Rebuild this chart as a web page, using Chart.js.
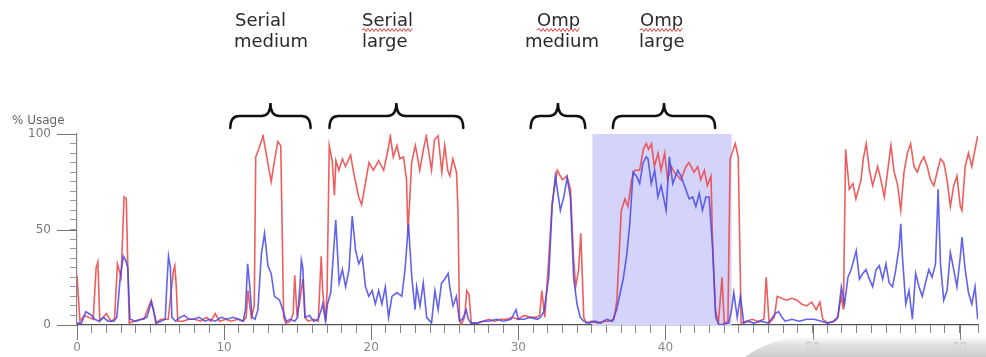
<!DOCTYPE html>
<html>
<head>
<meta charset="utf-8">
<script src="https://cdn.jsdelivr.net/npm/chart.js@4.4.0/dist/chart.umd.min.js"></script>
<style>
  html, body { margin: 0; padding: 0; background: #fff; }
  #wrap { position: relative; width: 986px; height: 357px; }
</style>
</head>
<body>
<div id="wrap"><canvas id="usage"></canvas></div>
<script>
// sample times (x) and % usage (y)
const redTime = [0,0.2,0.5,0.8,1.1,1.3,1.42,1.55,2.0,2.3,2.55,2.75,3.0,3.2,3.35,3.45,3.55,3.9,4.3,4.55,4.9,5.05,5.2,5.35,5.7,6.2,6.55,6.65,6.75,6.85,7.2,7.6,8.0,8.4,8.8,9.1,9.4,9.7,10.1,10.5,10.9,11.3,11.5,11.62,11.85,12.05,12.15,12.35,12.65,12.9,13.2,13.4,13.65,13.85,14.05,14.2,14.5,14.7,14.8,14.95,15.1,15.35,15.5,15.7,16.1,16.4,16.6,16.7,16.9,17.0,17.15,17.35,17.5,17.6,17.8,18.05,18.25,18.6,18.8,19.15,19.35,19.6,19.85,20.15,20.5,20.85,21.15,21.3,21.5,21.75,21.95,22.2,22.4,22.5,22.75,23.0,23.1,23.3,23.55,23.75,24.1,24.3,24.55,24.8,25.0,25.2,25.35,25.55,25.8,25.9,26.0,26.1,26.35,26.5,26.65,26.8,27.2,27.6,28.0,28.4,28.8,29.2,29.6,30.0,30.4,30.8,31.2,31.45,31.6,31.8,32.05,32.3,32.65,33.0,33.3,33.55,33.75,33.9,34.1,34.25,34.45,34.6,35.0,35.4,35.8,36.2,36.5,36.7,37.0,37.25,37.45,37.7,37.9,38.25,38.5,38.7,38.85,39.05,39.25,39.5,39.7,39.95,40.15,40.4,40.6,40.85,41.05,41.4,41.6,41.95,42.2,42.4,42.65,42.85,43.1,43.2,43.4,43.6,43.85,44.0,44.25,44.4,44.75,44.95,45.15,45.5,45.9,46.3,46.7,46.85,47.05,47.4,47.6,47.9,48.25,48.6,48.95,49.25,49.6,49.95,50.25,50.5,50.7,51.05,51.4,51.7,51.95,52.1,52.25,52.5,52.75,52.95,53.3,53.45,53.65,53.87,54.09,54.43,54.65,54.88,55.1,55.33,55.55,55.77,56.0,56.22,56.45,56.67,56.9,57.12,57.35,57.57,57.8,58.02,58.25,58.47,58.7,58.92,59.15,59.37,59.6,59.82,60.05,60.16,60.38,60.6,60.83,61.05,61.23];
const redUsage = [26,2,5,4,3,30,33,2,6,2,3,32,25,67,66,32,1,2,3,3,10,13,8,1,3,3,28,31,20,2,2,3,3,2,4,2,6,2,3,2,3,2,4,18,4,10,88,92,99,88,75,85,96,94,4,1,2,6,26,6,10,24,4,2,3,2,36,18,2,18,94,86,68,86,81,87,83,89,80,67,63,74,85,81,86,81,92,99,88,94,87,88,76,48,85,94,90,81,92,99,81,97,99,80,94,81,78,87,80,60,4,0,4,18,16,1,1,2,3,2,3,3,4,3,5,4,4,5,18,4,32,64,81,76,78,71,36,20,29,48,4,1,2,1,2,2,3,13,60,66,62,76,81,81,92,95,92,95,83,90,81,90,76,83,80,78,76,83,85,80,83,76,81,73,78,45,8,1,25,1,2,87,95,88,1,2,3,2,3,25,1,4,15,14,13,14,13,11,10,12,8,12,3,1,2,4,15,8,92,71,74,66,76,87,95,81,73,83,76,67,80,94,80,74,60,80,90,95,83,80,85,88,83,76,73,80,87,85,76,62,73,78,62,60,83,90,83,92,99];

const blueTime = [0,0.3,0.45,0.6,0.8,1.0,1.2,1.5,1.8,2.1,2.5,2.7,2.8,2.95,3.15,3.3,3.45,3.6,4.0,4.4,4.75,4.9,5.05,5.25,5.4,5.7,6.0,6.1,6.22,6.35,6.45,6.7,7.0,7.3,7.6,7.9,8.3,8.7,9.0,9.4,9.8,10.2,10.6,11.0,11.3,11.45,11.6,11.75,11.9,12.1,12.3,12.53,12.75,12.98,13.2,13.42,13.77,13.99,14.22,14.5,14.8,15.0,15.15,15.25,15.35,15.5,15.8,16.1,16.4,16.6,16.7,16.9,17.03,17.25,17.59,17.82,18.04,18.26,18.49,18.71,18.94,19.16,19.39,19.61,19.84,20.06,20.28,20.51,20.73,20.96,21.18,21.41,21.75,22.08,22.3,22.53,22.76,22.98,23.09,23.32,23.54,23.77,24.1,24.33,24.55,24.78,25.0,25.23,25.34,25.56,25.79,26.0,26.2,26.46,26.6,26.8,27.2,27.6,28.0,28.5,29.0,29.5,29.85,30.0,30.4,30.8,31.3,31.5,31.74,32.07,32.3,32.52,32.86,33.09,33.32,33.54,33.76,33.99,34.21,34.44,34.8,35.2,35.6,36.0,36.4,36.68,37.13,37.36,37.58,37.8,38.03,38.25,38.48,38.7,38.82,39.04,39.27,39.49,39.71,40.05,40.27,40.5,40.84,41.06,41.29,41.62,41.85,42.07,42.3,42.52,42.75,42.97,43.2,43.42,43.65,44.3,44.5,44.65,44.88,45.1,45.33,45.6,46.0,46.5,47.0,47.46,47.69,47.92,48.14,48.6,49.1,49.6,50.1,50.6,51.0,51.5,51.73,51.96,52.18,52.41,52.63,52.97,53.19,53.42,53.64,53.87,54.09,54.32,54.54,54.77,54.99,55.21,55.44,55.66,55.89,56.0,56.11,56.34,56.56,56.79,57.01,57.24,57.46,57.68,57.91,58.13,58.36,58.54,58.7,58.92,59.15,59.37,59.6,59.82,60.05,60.16,60.38,60.6,60.83,61.05,61.23];
const blueUsage = [1,1,4,7,6,5,3,2,4,2,2,4,12,26,36,34,30,3,2,3,4,8,12,6,1,2,3,20,36,30,4,2,4,5,3,3,4,2,3,2,4,3,4,3,2,8,32,20,4,3,8,37,48,31,27,15,13,8,2,3,2,4,20,34,30,4,5,2,3,8,11,2,11,17,55,22,29,20,29,57,39,32,36,20,15,18,11,18,11,20,4,15,17,15,29,53,25,8,20,10,22,4,1,18,8,22,24,27,20,10,15,2,3,8,3,1,1,2,2,3,2,3,8,3,3,4,3,4,7,25,62,78,60,67,77,67,25,11,4,2,1,2,1,3,2,8,24,36,53,80,78,74,85,88,87,74,81,67,73,60,88,74,81,78,73,66,67,62,69,60,67,67,41,4,0,1,8,17,4,15,1,2,1,2,1,6,7,4,2,3,2,3,3,2,1,2,4,20,11,25,29,39,24,27,29,24,20,29,31,24,32,22,20,29,41,53,36,11,18,3,27,20,15,22,29,25,32,71,32,13,18,38,29,20,36,46,29,17,11,20,3];

const xMajorTicks = [0, 10, 20, 30, 40, 50, 60];
const yMajorTicks = [0, 50, 100];

// the four runs marked with braces, and the highlighted interval
const runTitle = ['Serial', 'Serial', 'Omp', 'Omp'];
const runSize = ['medium', 'large', 'medium', 'large'];
const runStart = [10.42, 17.16, 30.84, 36.43];
const runEnd = [15.88, 26.26, 34.55, 43.38];
const highlight = [35.04, 44.5];

const toPoints = (xs, ys) => xs.map((x, i) => ({ x: x, y: ys[i] }));

// label left edges (px) for the two text lines above each brace
const labelLeft = [[235, 234], [362, 362], [537, 525], [640, 639]];
const underlined = [false, true, true, true];

function drawBrace(ctx, x0, x1) {
  const xc = (x0 + x1) / 2, yEnd = 128, yH = 116, yTop = 103, r = 9;
  ctx.beginPath();
  ctx.moveTo(x0, yEnd);
  ctx.quadraticCurveTo(x0, yH, x0 + r, yH);
  ctx.lineTo(xc - r, yH);
  ctx.quadraticCurveTo(xc, yH, xc, yTop);
  ctx.quadraticCurveTo(xc, yH, xc + r, yH);
  ctx.lineTo(x1 - r, yH);
  ctx.quadraticCurveTo(x1, yH, x1, yEnd);
  ctx.stroke();
}

function squiggle(ctx, x0, x1, y) {
  ctx.beginPath();
  ctx.moveTo(x0, y);
  let up = true;
  for (let x = x0 + 2; x <= x1; x += 2) {
    ctx.lineTo(x, up ? y - 1.5 : y + 1.5);
    up = !up;
  }
  ctx.stroke();
}

const decorations = {
  id: 'decorations',
  beforeDatasetsDraw(chart) {
    const { ctx, chartArea, scales } = chart;
    const x0 = scales.x.getPixelForValue(highlight[0]);
    const x1 = scales.x.getPixelForValue(highlight[1]);
    ctx.save();
    ctx.fillStyle = 'rgb(212,212,250)';
    ctx.fillRect(x0, scales.y.getPixelForValue(100), x1 - x0, scales.y.getPixelForValue(0) - scales.y.getPixelForValue(100));
    ctx.restore();
  },
  afterDraw(chart) {
    const { ctx, scales } = chart;
    const xs = scales.x, ys = scales.y;
    ctx.save();
    // long major ticks
    ctx.strokeStyle = '#777';
    ctx.lineWidth = 1;
    xMajorTicks.forEach(v => {
      const px = Math.round(xs.getPixelForValue(v)) + 0.5;
      ctx.beginPath(); ctx.moveTo(px, ys.bottom); ctx.lineTo(px, ys.bottom + 15); ctx.stroke();
    });
    yMajorTicks.forEach(v => {
      const py = Math.round(ys.getPixelForValue(v)) + 0.5;
      ctx.beginPath(); ctx.moveTo(xs.left - 20, py); ctx.lineTo(xs.left, py); ctx.stroke();
    });

    // axis title
    ctx.fillStyle = '#666';
    ctx.font = '12px "DejaVu Sans"';
    ctx.textBaseline = 'alphabetic';
    ctx.fillText('% Usage', 12, 124);

    // braces
    ctx.strokeStyle = '#111';
    ctx.lineWidth = 2.4;
    ctx.lineCap = 'round';
    runStart.forEach((s, i) => drawBrace(ctx, xs.getPixelForValue(s), xs.getPixelForValue(runEnd[i])));

    // run labels
    ctx.font = '18px "DejaVu Sans"';
    ctx.fillStyle = '#2a2a2a';
    runTitle.forEach((t, i) => {
      ctx.fillText(t, labelLeft[i][0], 26);
      ctx.fillText(runSize[i], labelLeft[i][1], 47);
      if (underlined[i]) {
        ctx.strokeStyle = '#e23b3b';
        ctx.lineWidth = 1;
        squiggle(ctx, labelLeft[i][0], labelLeft[i][0] + ctx.measureText(t).width, 30);
      }
    });

    // soft page shadow at the bottom right
    const g = ctx.createLinearGradient(0, 336, 0, 357);
    g.addColorStop(0, 'rgba(215,215,215,0)');
    g.addColorStop(0.45, 'rgba(222,222,222,0.92)');
    g.addColorStop(1, 'rgba(205,205,205,1)');
    ctx.fillStyle = g;
    ctx.beginPath();
    ctx.moveTo(745, 357);
    ctx.quadraticCurveTo(770, 338, 810, 336);
    ctx.lineTo(986, 336);
    ctx.lineTo(986, 357);
    ctx.closePath();
    ctx.fill();
    ctx.restore();
  }
};

Chart.defaults.font.family = '"DejaVu Sans"';

new Chart(document.getElementById('usage'), {
  type: 'line',
  data: {
    datasets: [
      {
        label: 'red',
        data: toPoints(redTime, redUsage),
        borderColor: 'rgba(236,66,66,0.85)',
        borderWidth: 1.6,
        pointRadius: 0,
        tension: 0,
        order: 2
      },
      {
        label: 'blue',
        data: toPoints(blueTime, blueUsage),
        borderColor: 'rgba(70,70,232,0.85)',
        borderWidth: 1.6,
        pointRadius: 0,
        tension: 0,
        order: 1
      }
    ]
  },
  options: {
    responsive: true,
    maintainAspectRatio: false,
    animation: false,
    layout: { padding: { top: 134, left: 0, right: 0, bottom: 0 } },
    plugins: { legend: { display: false }, tooltip: { enabled: false } },
    scales: {
      x: {
        type: 'linear',
        min: 0,
        max: 61.25,
        afterFit: s => { s.height = 32; },
        border: { color: '#555', width: 1.2 },
        grid: { drawOnChartArea: false, tickLength: 8, color: '#888' },
        ticks: {
          stepSize: 1,
          autoSkip: false,
          maxRotation: 0,
          padding: 8,
          color: '#888',
          font: { size: 12 },
          callback: v => (xMajorTicks.includes(v) ? String(v) : '')
        }
      },
      y: {
        min: 0,
        max: 100,
        afterFit: s => { s.width = 77; },
        border: { color: '#888', width: 1.2 },
        grid: { drawOnChartArea: false, tickLength: 7, color: '#999' },
        ticks: {
          stepSize: 5,
          autoSkip: false,
          padding: 19,
          color: '#777',
          font: { size: 12 },
          callback: v => (yMajorTicks.includes(v) ? String(v) : '')
        }
      }
    }
  },
  plugins: [decorations]
});
</script>
</body>
</html>
